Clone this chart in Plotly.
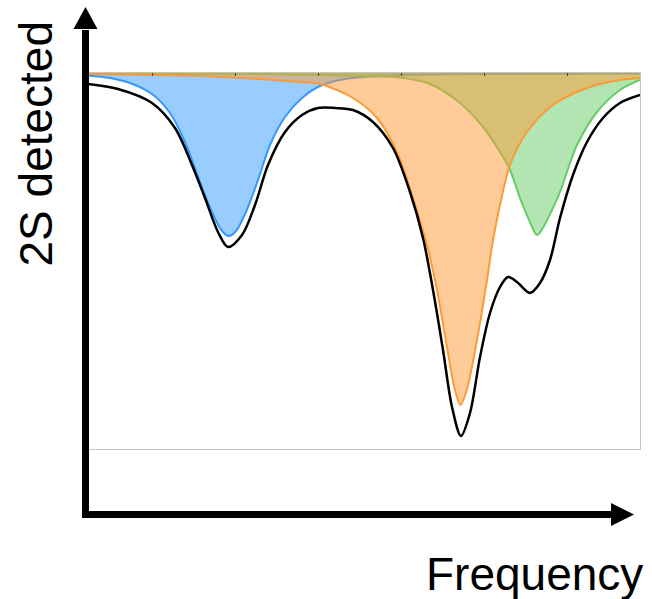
import plotly.graph_objects as go

# Frequency (arb. units) and detected 2S signal (arb. units, 0 = baseline, dips are negative)
blue_freq = [0, 22, 42, 64, 82, 97, 112, 124, 134, 141, 148, 158, 170, 182, 197, 214, 232, 257, 292, 342, 412, 552]
blue_sig = [-2.5, -5, -10, -21, -40, -69, -109, -139, -158, -163, -158, -139, -107, -72, -44, -25, -13, -6, -3, -1.5, -1, -0.5]

orange_freq = [0, 62, 112, 162, 212, 232, 265, 289, 309, 325, 339, 349, 359, 367, 372.5, 378.7, 389, 399, 405, 412, 422, 439, 465, 499, 532, 552]
orange_sig = [-1, -2, -3, -5.5, -9, -11, -25, -45, -79, -125, -172, -217, -274, -317, -332, -317, -267, -207, -167, -132, -92, -59, -32, -15, -7, -5]

green_freq = [0, 162, 232, 272, 312, 342, 372, 395, 412, 422, 432, 442, 449, 456, 464, 472, 482, 489, 509, 532, 552]
green_sig = [-0.5, -1, -2, -3, -4.5, -11, -30, -54, -79, -97, -125, -149, -162, -153, -137, -119, -90, -72, -39, -17, -7]

total_freq = [0, 30, 64, 87, 104, 117, 130, 140, 154, 167, 180, 197, 214, 230, 247, 265, 285, 305, 322, 335,
              345, 355, 364, 373, 382, 392, 402, 412, 420, 429, 442, 452, 462, 472, 485, 499, 515, 532, 552]
total_sig = [-11, -16, -30, -55, -92, -125, -159, -174, -162, -132, -92, -59, -42, -35, -35, -37, -49, -75, -119, -165,
             -217, -277, -334, -363, -340, -284, -240, -214, -204, -209, -220, -210, -187, -145, -102, -69, -45, -30, -22]

top_ticks = [64, 147, 230, 313, 396, 479]

W, H = 652, 599
ML, MR, MT, MB = 88, 12, 73, 150
PW, PH = W - ML - MR, H - MT - MB


def px(x):
    return (x - ML) / PW


def py(y):
    return (H - MB - y) / PH


fig = go.Figure()

components = [
    (blue_freq, blue_sig, "rgb(51,153,255)", "rgba(51,153,255,0.5)"),
    (green_freq, green_sig, "rgb(102,204,102)", "rgba(102,204,102,0.5)"),
    (orange_freq, orange_sig, "rgb(255,153,51)", "rgba(255,153,51,0.5)"),
]
for fx, fy, lc, fc in components:
    fig.add_trace(go.Scatter(
        x=fx, y=fy, mode="lines", fill="tozeroy", fillcolor=fc,
        line=dict(color=lc, width=2, shape="spline", smoothing=0.9),
        hoverinfo="skip", showlegend=False,
    ))

fig.add_trace(go.Scatter(
    x=total_freq, y=total_sig, mode="lines",
    line=dict(color="black", width=2.5, shape="spline", smoothing=0.9),
    hoverinfo="skip", showlegend=False,
))

frame = "#c4c4c4"
fig.update_xaxes(
    range=[0, 552], side="top", showgrid=False, zeroline=False,
    showline=True, mirror=True, linecolor=frame, linewidth=1,
    ticks="inside", ticklen=3, tickwidth=1, tickcolor="#444",
    tickvals=top_ticks, showticklabels=False,
)
fig.update_yaxes(
    range=[-376, 0], showgrid=False, zeroline=False,
    showline=True, mirror=True, linecolor=frame, linewidth=1,
    ticks="", showticklabels=False,
)

# Axis arrows
shapes = [
    dict(type="line", xref="paper", yref="paper", x0=px(85.5), x1=px(85.5), y0=py(518), y1=py(30),
         line=dict(color="black", width=7)),
    dict(type="line", xref="paper", yref="paper", x0=px(82), x1=px(612), y0=py(514.5), y1=py(514.5),
         line=dict(color="black", width=7)),
    dict(type="path", xref="paper", yref="paper",
         path=f"M {px(73.5)},{py(29)} L {px(97.5)},{py(29)} L {px(85.5)},{py(7)} Z",
         fillcolor="black", line=dict(color="black", width=0)),
    dict(type="path", xref="paper", yref="paper",
         path=f"M {px(611)},{py(503)} L {px(611)},{py(526)} L {px(634)},{py(514.5)} Z",
         fillcolor="black", line=dict(color="black", width=0)),
]

font = dict(family="Liberation Sans, Arial, sans-serif", size=46, color="black")
annotations = [
    dict(text="2S detected", xref="paper", yref="paper", x=px(35), y=py(143.5),
         textangle=-90, showarrow=False, font=font, xanchor="center", yanchor="middle"),
    dict(text="Frequency", xref="paper", yref="paper", x=px(534), y=py(574),
         showarrow=False, font=font, xanchor="center", yanchor="middle"),
]

fig.update_layout(
    width=W, height=H,
    margin=dict(l=ML, r=MR, t=MT, b=MB),
    paper_bgcolor="white", plot_bgcolor="white",
    shapes=shapes, annotations=annotations,
)

fig.write_html("out.html")
